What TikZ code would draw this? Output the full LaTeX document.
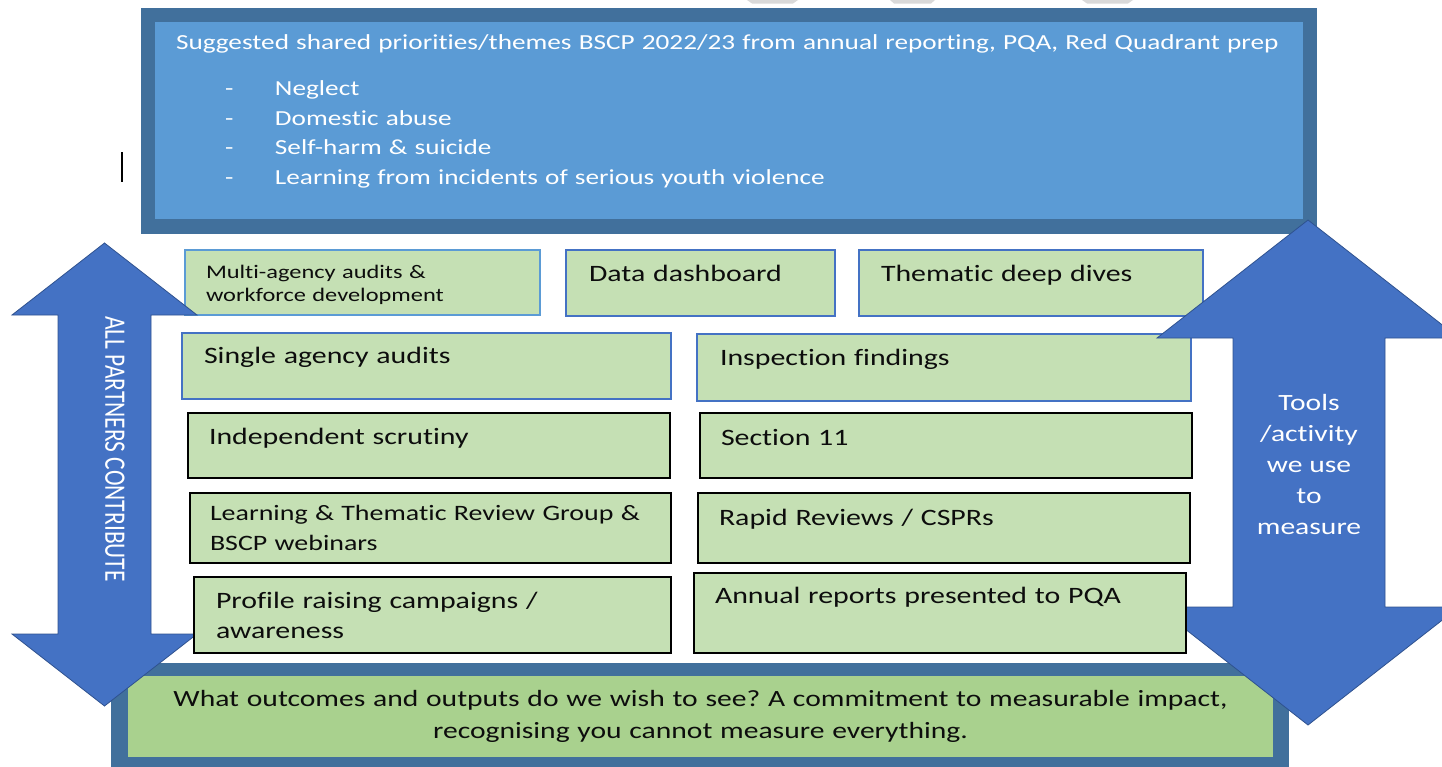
\documentclass[tikz,border=0pt]{standalone}
\usepackage{fontspec}
\setmainfont{Carlito}[FakeStretch=1.27, Ligatures=NoCommon]
\newfontfamily\rotfont{Carlito}[FakeStretch=0.79, Ligatures=NoCommon]
\frenchspacing
\definecolor{topouter}{HTML}{41709C}
\definecolor{topinner}{HTML}{5B9BD5}
\definecolor{arrowblue}{HTML}{4472C4}
\definecolor{arrowedge}{HTML}{2F528F}
\definecolor{boxgreen}{HTML}{C5E0B4}
\definecolor{outgreen}{HTML}{A9D18E}
\definecolor{lightedge}{HTML}{5B9BD5}
\definecolor{fraggrey}{HTML}{D9D9D9}
\definecolor{inktext}{HTML}{0D0D0D}
\begin{document}
\begin{tikzpicture}[x=1pt,y=-1pt,
    gbox/.style={draw=black, fill=boxgreen, line width=1.8pt, anchor=north west,
      outer sep=0pt, inner xsep=22pt, inner ysep=0pt, text height=31pt, align=left,
      text=inktext, font=\fontsize{23.5}{30.5}\selectfont},
    dblarrow/.style={fill=arrowblue, draw=arrowedge, line width=0.8pt}]
    \useasboundingbox (0,0) rectangle (1442,766);
    % grey bits at the top edge
    \fill[fraggrey] (747,0) -- (798,0) -- (793,3.5) -- (752,3.5) -- cycle;
    \fill[fraggrey] (890,0) -- (935,0) -- (931,3.5) -- (894,3.5) -- cycle;
    \fill[fraggrey] (1082,0) -- (1133,0) -- (1128,3.5) -- (1087,3.5) -- cycle;
    \draw[line width=1.6pt] (122,152) -- (122,182);
    % priorities
    \node[draw=topouter, fill=topinner, line width=14.5pt, anchor=north west,
      outer sep=0pt, inner xsep=21pt, inner ysep=0pt, text width=1120pt,
      text height=34.5pt, text depth=177pt, align=left, text=white,
      font=\fontsize{21.45}{29.5}\selectfont] (themes) at (148,15)
      {\hspace*{7pt}Suggested shared priorities/themes BSCP 2022/23 from annual reporting, PQA, Red Quadrant prep\\[16.5pt]
       \hspace*{56pt}\makebox[50pt][l]{-}Neglect\\
       \hspace*{56pt}\makebox[50pt][l]{-}Domestic abuse\\
       \hspace*{56pt}\makebox[50pt][l]{-}Self-harm \& suicide\\
       \hspace*{56pt}\makebox[50pt][l]{-}Learning from incidents of serious youth violence};
    % outcomes
    \fill[topouter] (111,663) rectangle (1289,770);
    \node[fill=outgreen, anchor=north, outer sep=0pt, inner sep=0pt, text width=1145pt,
      text height=30.7pt, text depth=50.3pt, align=center, text=inktext,
      font=\fontsize{23.3}{31.6}\selectfont] (outcomes) at (700.5,676)
      {What outcomes and outputs do we wish to see? A commitment to measurable impact,\\
       recognising you cannot measure everything.};
    % first rows
    \node[gbox, draw=lightedge, inner xsep=21pt, text width=313pt, text height=28.3pt,
      text depth=36.7pt, font=\fontsize{19.2}{23.5}\selectfont] (multi) at (185,250)
      {Multi-agency audits \&\\workforce development};
    \node[gbox, draw=arrowblue, inner xsep=23pt, text width=223pt, text depth=35pt] (dash) at (566,250) {Data dashboard};
    \node[gbox, draw=arrowblue, text width=300pt, text depth=35pt] (deep) at (859,250) {Thematic deep dives};
    \node[gbox, draw=arrowblue, text width=445pt, text height=30.5pt, text depth=35.5pt] (single) at (182,333) {Single agency audits};
    \node[gbox, draw=arrowblue, inner xsep=23pt, text width=448pt, text depth=36pt] (insp) at (697,334) {Inspection findings};
    % arrows
    \draw[dblarrow] (104.5,243) -- (197,315) -- (151,315) -- (151,634) -- (197,634)
      -- (104.5,706) -- (12,634) -- (58,634) -- (58,315) -- (12,315) -- cycle;
    \draw[dblarrow] (1308,220) -- (1459,338) -- (1385,338) -- (1385,607) -- (1459,607)
      -- (1308,725) -- (1157,607) -- (1233,607) -- (1233,338) -- (1157,338) -- cycle;
    \node[rotate=-90, text=white, font=\rotfont\fontsize{29.7}{32}\selectfont] (partners) at (115,449) {ALL PARTNERS CONTRIBUTE};
    \node[align=center, text=white, font=\fontsize{23.3}{31}\selectfont] (tools) at (1309,464)
      {Tools\\/activity\\we use\\to\\measure};
    % lower rows
    \node[gbox, inner xsep=21pt, text width=440pt, text height=31.5pt, text depth=33.5pt] (indep) at (188,413) {Independent scrutiny};
    \node[gbox, inner xsep=21pt, text width=450pt, text height=32pt, text depth=33pt] (sec) at (700,413) {Section 11};
    \node[gbox, inner xsep=20pt, text width=441pt, text height=27.5pt, text depth=42.5pt,
      font=\fontsize{22}{30}\selectfont] (learn) at (190,493)
      {Learning \& Thematic Review Group \&\\BSCP webinars};
    \node[gbox, inner xsep=21pt, text width=450pt, text height=32pt, text depth=38pt] (rapid) at (698,493) {Rapid Reviews / CSPRs};
    \node[gbox, text width=433pt, text height=31.3pt, text depth=44.7pt] (profile) at (194,577)
      {Profile raising campaigns /\\awareness};
    \node[gbox, inner xsep=21pt, text width=450pt, text height=30.5pt, text depth=49.5pt] (annual) at (694,573) {Annual reports presented to PQA};
\end{tikzpicture}
\end{document}
